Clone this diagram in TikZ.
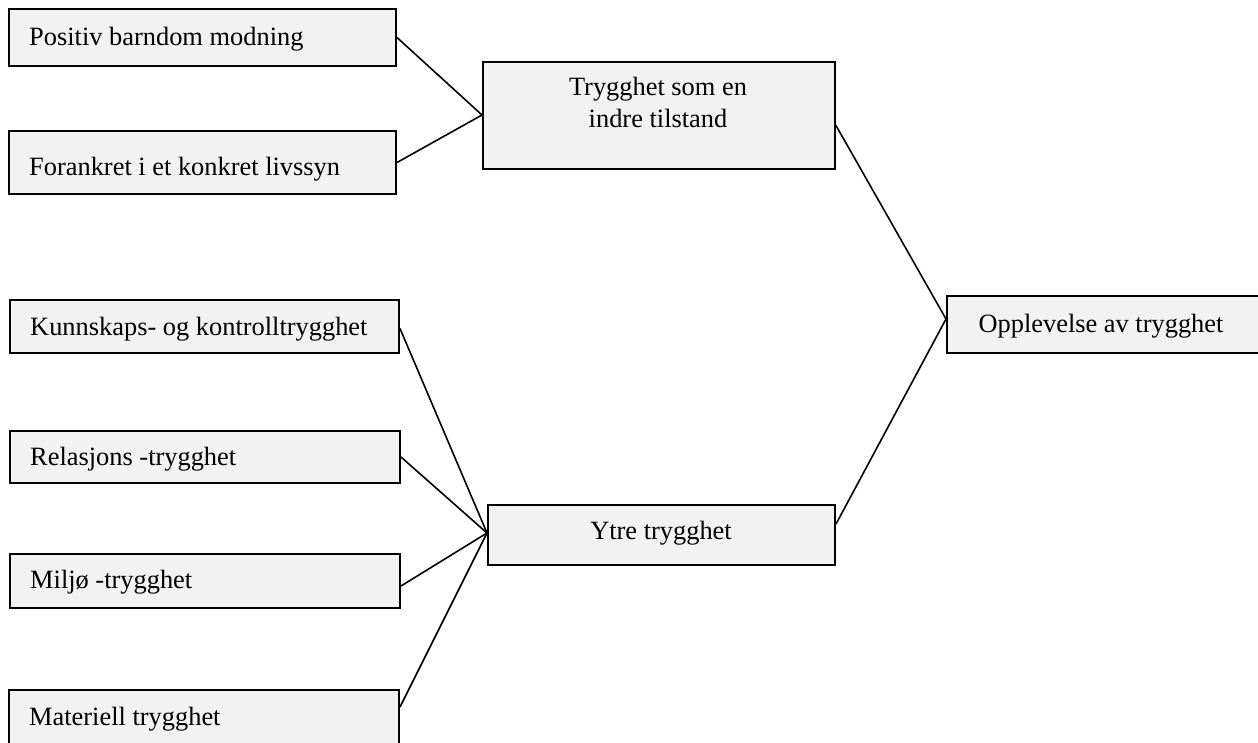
\documentclass[tikz,border=0pt]{standalone}
\usepackage{fontspec}
\setmainfont{Liberation Serif}
\definecolor{boxfill}{HTML}{F2F2F2}
\begin{document}
\begin{tikzpicture}[x=1pt,y=-1pt,
  box/.style={draw=black, fill=boxfill, line width=2pt, inner sep=0pt, anchor=north west},
  lbl/.style={inner sep=0pt, font=\fontsize{26.4}{32}\selectfont},
  conn/.style={line width=1.6pt}]
\useasboundingbox (0,0) rectangle (1258,742);
\clip (0,0) rectangle (1258,742);
% boxes
\node[box, minimum width=387pt, minimum height=57pt] (b1) at (8,8) {};
\node[box, minimum width=387pt, minimum height=63pt] (b2) at (8,130) {};
\node[box, minimum width=352pt, minimum height=107pt] (b3) at (482,61) {};
\node[box, minimum width=389pt, minimum height=53pt] (b4) at (9,299) {};
\node[box, minimum width=390pt, minimum height=52pt] (b5) at (9,430) {};
\node[box, minimum width=390pt, minimum height=54pt] (b6) at (9,553) {};
\node[box, minimum width=390pt, minimum height=80pt] (b7) at (8,689) {};
\node[box, minimum width=347pt, minimum height=60pt] (yt) at (487,504) {};
\node[box, minimum width=320pt, minimum height=57pt] (op) at (946,295) {};
% texts
\node[lbl, anchor=base west] (t1) at (29,45) {Positiv barndom modning};
\node[lbl, anchor=base west] (t2) at (29,175) {Forankret i et konkret livssyn};
\node[lbl, anchor=base, align=center] (t3a) at (658,95) {Trygghet som en};
\node[lbl, anchor=base, align=center] (t3b) at (658,127) {indre tilstand};
\node[lbl, anchor=base west] (t4) at (30,335) {Kunnskaps- og kontrolltrygghet};
\node[lbl, anchor=base west] (t5) at (30,465) {Relasjons -trygghet};
\node[lbl, anchor=base west] (t6) at (30,588) {Miljø -trygghet};
\node[lbl, anchor=base west] (t7) at (29,725) {Materiell trygghet};
\node[lbl, anchor=base] (ty) at (661,539) {Ytre trygghet};
\node[lbl, anchor=base] (to) at (1101,332) {Opplevelse av trygghet};
% connectors
\coordinate (b3w) at (482,115);
\coordinate (ytw) at (487,533);
\coordinate (opw) at (946,319);
\draw[conn] (b1.east) -- (b3w);
\draw[conn] (b2.east) -- (b3w);
\draw[conn] ([yshift=-10pt]b3.east) -- (opw);
\draw[conn] ([yshift=11pt]yt.east) -- (opw);
\draw[conn] ([yshift=-2pt]b4.east) -- (ytw);
\draw[conn] (b5.east) -- (ytw);
\draw[conn] ([yshift=-5pt]b6.east) -- (ytw);
\draw[conn] ([yshift=-18pt]b7.north east) -- (ytw);
\end{tikzpicture}
\end{document}
